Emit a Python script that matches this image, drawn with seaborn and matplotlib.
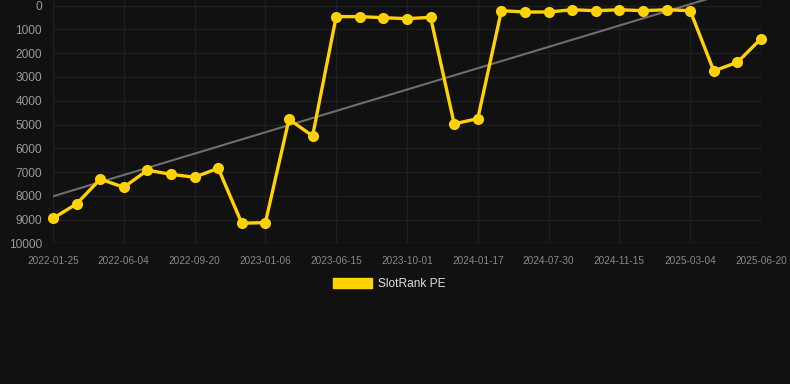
import matplotlib
matplotlib.use("Agg")
import matplotlib.pyplot as plt
import numpy as np
import pandas as pd
import seaborn as sns

# SlotRank PE ranking, one value per snapshot (lower = better, axis inverted)
ranks = [8950, 8340, 7300, 7640, 6925, 7095, 7220, 6840, 9155, 9130,
         4780, 5480, 460, 460, 505, 545, 490, 4975, 4750, 210,
         265, 265, 170, 210, 170, 210, 170, 210, 2745, 2380, 1390]
# labels shown on every third snapshot
date_labels = ["2022-01-25", "2022-06-04", "2022-09-20", "2023-01-06",
               "2023-06-15", "2023-10-01", "2024-01-17", "2024-07-30",
               "2024-11-15", "2025-03-04", "2025-06-20"]
y_ticks = [0, 1000, 2000, 3000, 4000, 5000, 6000, 7000, 8000, 9000, 10000]

df = pd.DataFrame({"idx": np.arange(len(ranks)), "rank": ranks})

bg = "#111111"
gold = "#ffd200"
grid = "#1e1e1e"

sns.set_style("dark")
plt.rcParams["font.family"] = ["Liberation Sans", "DejaVu Sans"]

fig = plt.figure(figsize=(7.9, 3.84), dpi=100, facecolor=bg)
ax = fig.add_axes([53 / 790, 1 - 243.3 / 384, (761 - 53) / 790, 243.3 / 384])
ax.set_facecolor(bg)

# trend line (least squares over the snapshots)
sns.regplot(data=df, x="idx", y="rank", scatter=False, ci=None, truncate=True,
            ax=ax, line_kws={"color": "#6e6e6e", "lw": 1.5, "zorder": 2})

sns.lineplot(data=df, x="idx", y="rank", ax=ax, color=gold, lw=2.4,
             marker="o", markersize=8, markeredgewidth=0, zorder=3,
             label="SlotRank PE", clip_on=False)

ax.set_xlim(0, len(ranks) - 1)
ax.set_ylim(10000, -240)
ax.set_yticks(y_ticks)
ax.set_yticklabels([str(v) for v in y_ticks], color="#999999", fontsize=8.6)
ax.set_xticks(df["idx"][::3])
ax.set_xticklabels(date_labels, color="#888888", fontsize=7.2)
ax.tick_params(axis="x", length=6, color=grid, width=1, pad=3)
ax.tick_params(axis="y", length=0, pad=8)
ax.grid(True, color=grid, lw=1)
ax.set_xlabel("")
ax.set_ylabel("")
for s in ax.spines.values():
    s.set_visible(False)
ax.axhline(10000, color="#262626", lw=1, zorder=1)

handle = plt.Rectangle((0, 0), 1, 1, color=gold)
ax.legend([handle], ["SlotRank PE"], loc="center",
          bbox_to_anchor=(389 / 790, 1 - 284 / 384),
          bbox_transform=fig.transFigure, frameon=False,
          handlelength=3.3, handleheight=1.0, handletextpad=0.45,
          prop={"size": 8.6}, labelcolor="#dddddd")

fig.savefig("out.png", dpi=100, facecolor=bg)
